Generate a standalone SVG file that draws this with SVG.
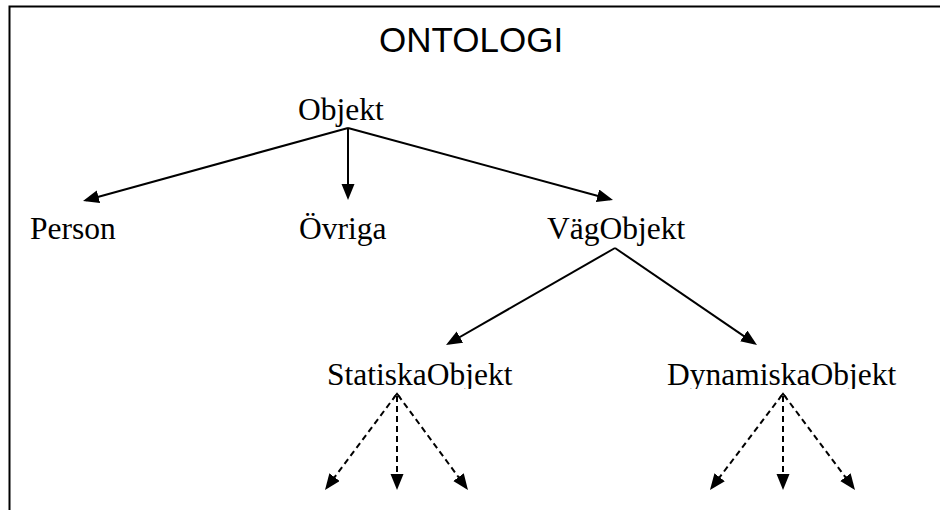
<svg xmlns="http://www.w3.org/2000/svg" width="940" height="510" viewBox="0 0 940 510">
  <style>
    .lbl { font-family: "Liberation Serif", "Times New Roman", serif; font-size: 31.5px; fill: #000; }
    .title { font-family: "Liberation Sans", Arial, sans-serif; font-size: 35px; fill: #000; }
    .solid { stroke: #000; stroke-width: 2; fill: none; marker-end: url(#ah); }
    .dash { stroke: #000; stroke-width: 2; fill: none; stroke-dasharray: 6 4; marker-end: url(#ah); }
  </style>
  <defs>
    <marker id="ah" markerUnits="userSpaceOnUse" markerWidth="17" markerHeight="14" refX="13" refY="6.5" orient="auto">
      <path d="M0,0 L16,6.5 L0,13 z" fill="#000"/>
    </marker>
    <clipPath id="clipLow">
      <rect x="0" y="0" width="940" height="389"/>
    </clipPath>
  </defs>
  <rect width="940" height="510" fill="#fff"/>
  <path d="M9.5,512 L9.5,6.5 L942,6.5" stroke="#000" stroke-width="2" fill="none"/>
  <g id="title"><text class="title" x="379" y="52">ONTOLOGI</text></g>
  <g id="objekt"><text class="lbl" x="298" y="120">Objekt</text></g>
  <g id="person"><text class="lbl" x="30" y="239">Person</text></g>
  <g id="ovriga"><text class="lbl" x="299" y="239">Övriga</text></g>
  <g id="vagobjekt"><text class="lbl" x="547" y="239">VägObjekt</text></g>
  <g id="statiska" clip-path="url(#clipLow)"><text class="lbl" x="327" y="385">StatiskaObjekt</text></g>
  <g id="dynamiska" clip-path="url(#clipLow)"><text class="lbl" x="667" y="385">DynamiskaObjekt</text></g>
  <g id="connectors">
    <line class="solid" x1="348" y1="128" x2="85.9" y2="200.2"/>
    <line class="solid" x1="348" y1="128" x2="348" y2="197"/>
    <line class="solid" x1="348" y1="128" x2="610.1" y2="199.2"/>
    <line class="solid" x1="615" y1="248" x2="448.6" y2="343.5"/>
    <line class="solid" x1="615" y1="248" x2="754.5" y2="343.3"/>
    <line class="dash" x1="396" y1="395" x2="326.8" y2="487.6"/>
    <line class="dash" x1="397" y1="396" x2="397" y2="487"/>
    <line class="dash" x1="398" y1="395" x2="466.2" y2="487.6"/>
    <polyline points="393.5,398 397,393.5 400.5,398" stroke="#000" stroke-width="1.5" fill="none"/>
    <line class="dash" x1="782" y1="395" x2="711.8" y2="487.6"/>
    <line class="dash" x1="783" y1="396" x2="783" y2="487"/>
    <line class="dash" x1="784" y1="395" x2="853.2" y2="487.6"/>
    <polyline points="779.5,398 783,393.5 786.5,398" stroke="#000" stroke-width="1.5" fill="none"/>
  </g>
</svg>
